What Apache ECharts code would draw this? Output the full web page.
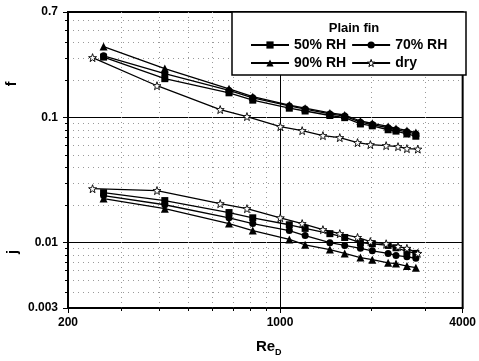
<!DOCTYPE html>
<html>
<head>
<meta charset="UTF-8">
<title>Plain fin - f and j</title>
<script src="https://cdn.jsdelivr.net/npm/echarts@6/dist/echarts.min.js"></script>
<style>
  html, body { margin: 0; padding: 0; background: #fff; }
  #main { width: 479px; height: 361px; }
</style>
</head>
<body>
<div id="main"></div>
<script>
// Reynolds number of the wet runs and of the dry run
var reWet = [262, 417, 679, 813, 1073, 1210, 1460, 1634, 1841, 2015, 2272, 2412, 2620, 2804];
var reDry = [241, 393, 635, 778, 1002, 1183, 1385, 1574, 1801, 1985, 2238, 2449, 2620, 2846];

// friction factor f
var f50 = [0.305, 0.205, 0.158, 0.138, 0.119, 0.113, 0.104, 0.100, 0.089, 0.086, 0.080, 0.078, 0.074, 0.071];
var f70 = [0.312, 0.225, 0.165, 0.144, 0.124, 0.117, 0.107, 0.103, 0.092, 0.088, 0.083, 0.080, 0.077, 0.074];
var f90 = [0.370, 0.247, 0.170, 0.147, 0.126, 0.119, 0.109, 0.105, 0.094, 0.090, 0.085, 0.082, 0.079, 0.076];
var fDry = [0.302, 0.180, 0.116, 0.102, 0.0847, 0.0787, 0.0718, 0.0692, 0.0631, 0.0608, 0.0597, 0.0586, 0.0565, 0.0560];

// Colburn factor j
var j50 = [0.0251, 0.0217, 0.0174, 0.0158, 0.0139, 0.0130, 0.0118, 0.0110, 0.0100, 0.0098, 0.0095, 0.0091, 0.0085, 0.0082];
var j70 = [0.0238, 0.0201, 0.0158, 0.0142, 0.0125, 0.0114, 0.0100, 0.0095, 0.0090, 0.0086, 0.0082, 0.0079, 0.0077, 0.0075];
var j90 = [0.0225, 0.0187, 0.0142, 0.0125, 0.0106, 0.0096, 0.0088, 0.0082, 0.0076, 0.0073, 0.0069, 0.0068, 0.0065, 0.0063];
var jDry = [0.0270, 0.0261, 0.0205, 0.0187, 0.0158, 0.0142, 0.0127, 0.0118, 0.0110, 0.0102, 0.0098, 0.0093, 0.0090, 0.0082];

// axis ranges and minor ticks (dotted grid)
var xRange = [200, 4000];
var yRange = [0.003, 0.7];
var xMinor = [300, 400, 500, 600, 700, 800, 900, 2000, 3000];
var yMinor = [0.004, 0.005, 0.006, 0.007, 0.008, 0.009,
              0.02, 0.03, 0.04, 0.05, 0.06, 0.07, 0.08, 0.09,
              0.2, 0.3, 0.4, 0.5, 0.6];

var starPath = 'path://M0,-10L2.35,-3.24L9.51,-3.09L3.8,1.24L5.88,8.09L0,4L-5.88,8.09L-3.8,1.24L-9.51,-3.09L-2.35,-3.24Z';
var font = 'Arial, "Liberation Sans", sans-serif';

function pairs(xs, ys) {
  var out = [];
  for (var i = 0; i < xs.length; i++) out.push([xs[i], ys[i]]);
  return out;
}

function curve(name, xs, ys, symbol, size, hollow) {
  return {
    name: name,
    type: 'line',
    data: pairs(xs, ys),
    symbol: symbol,
    symbolSize: size,
    showAllSymbol: true,
    animation: false,
    lineStyle: { color: '#000', width: 1.3 },
    itemStyle: { color: hollow ? '#fff' : '#000', borderColor: '#000', borderWidth: hollow ? 0.9 : 0 },
    emphasis: { disabled: true }
  };
}

var labelFmt = function (v) { return String(+v.toPrecision(3)); };
var legendText = { color: '#000', fontWeight: 'bold', fontSize: 14, fontFamily: font };
var hollowItem = { color: '#fff', borderColor: '#000', borderWidth: 1 };

var chart = echarts.init(document.getElementById('main'));

var option = {
  backgroundColor: '#fff',
  animation: false,
  grid: {
    left: 68, right: 12, top: 12, bottom: 53,
    show: true, borderColor: '#000', borderWidth: 2, backgroundColor: 'transparent'
  },
  xAxis: [
    {
      type: 'log', min: xRange[0], max: xRange[1],
      axisLine: { show: true, lineStyle: { color: '#000', width: 1.5 } },
      axisTick: { show: true, length: 5, lineStyle: { color: '#000', width: 1 } },
      axisLabel: { show: true, showMinLabel: true, showMaxLabel: true, color: '#000',
        fontWeight: 'bold', fontSize: 12, fontFamily: font, margin: 9, formatter: labelFmt },
      splitLine: { show: true, lineStyle: { color: '#000', width: 1 } }
    },
    {
      type: 'log', min: xRange[0], max: xRange[1], position: 'bottom',
      axisLine: { show: false },
      axisTick: { show: true, length: 3, customValues: xMinor, lineStyle: { color: '#000', width: 1 } },
      axisLabel: { show: false },
      splitLine: { show: true, lineStyle: { color: '#9a9a9a', width: 1, type: [1, 4] } }
    }
  ],
  yAxis: [
    {
      type: 'log', min: yRange[0], max: yRange[1],
      axisLine: { show: true, lineStyle: { color: '#000', width: 1.5 } },
      axisTick: { show: true, length: 5, lineStyle: { color: '#000', width: 1 } },
      axisLabel: { show: true, showMinLabel: true, showMaxLabel: true, color: '#000',
        fontWeight: 'bold', fontSize: 12, fontFamily: font, margin: 10, formatter: labelFmt },
      splitLine: { show: true, lineStyle: { color: '#000', width: 1 } }
    },
    {
      type: 'log', min: yRange[0], max: yRange[1], position: 'left',
      axisLine: { show: false },
      axisTick: { show: true, length: 3, customValues: yMinor, lineStyle: { color: '#000', width: 1 } },
      axisLabel: { show: false },
      splitLine: { show: true, lineStyle: { color: '#9a9a9a', width: 1, type: [1, 4] } }
    }
  ],
  legend: [
    {
      data: ['50% RH', '70% RH'], left: 250, top: 38, orient: 'horizontal',
      itemWidth: 38, itemHeight: 9, itemGap: 5, padding: 0, selectedMode: false, z: 10,
      textStyle: legendText
    },
    {
      data: ['90% RH', { name: 'dry', itemStyle: hollowItem }], left: 250, top: 56, orient: 'horizontal',
      itemWidth: 38, itemHeight: 9, itemGap: 5, padding: 0, selectedMode: false, z: 10,
      textStyle: legendText
    }
  ],
  graphic: [
    { type: 'rect', z: 6, shape: { x: 232, y: 12, width: 234, height: 63 },
      style: { fill: '#fff', stroke: '#000', lineWidth: 1.5 } },
    { type: 'text', z: 7, x: 354, y: 28,
      style: { text: 'Plain fin', fill: '#000', font: 'bold 13px ' + font, textAlign: 'center', textVerticalAlign: 'middle' } },
    { type: 'text', z: 7, x: 12, y: 84, rotation: Math.PI / 2,
      style: { text: 'f', fill: '#000', font: 'bold 14px ' + font, textAlign: 'center', textVerticalAlign: 'middle' } },
    { type: 'text', z: 7, x: 13, y: 252, rotation: Math.PI / 2,
      style: { text: 'j', fill: '#000', font: 'bold 14px ' + font, textAlign: 'center', textVerticalAlign: 'middle' } },
    { type: 'text', z: 7, x: 256, y: 347,
      style: { text: 'Re', fill: '#000', font: 'bold 15px ' + font, textAlign: 'left', textVerticalAlign: 'middle' } },
    { type: 'text', z: 7, x: 275, y: 353,
      style: { text: 'D', fill: '#000', font: 'bold 9px ' + font, textAlign: 'left', textVerticalAlign: 'middle' } }
  ],
  series: [
    curve('50% RH', reWet, f50, 'rect', 7, false),
    curve('70% RH', reWet, f70, 'circle', 7, false),
    curve('90% RH', reWet, f90, 'triangle', 8, false),
    curve('dry', reDry, fDry, starPath, 8, true),
    curve('50% RH', reWet, j50, 'rect', 7, false),
    curve('70% RH', reWet, j70, 'circle', 7, false),
    curve('90% RH', reWet, j90, 'triangle', 8, false),
    curve('dry', reDry, jDry, starPath, 8, true)
  ]
};

chart.setOption(option);
</script>
</body>
</html>
